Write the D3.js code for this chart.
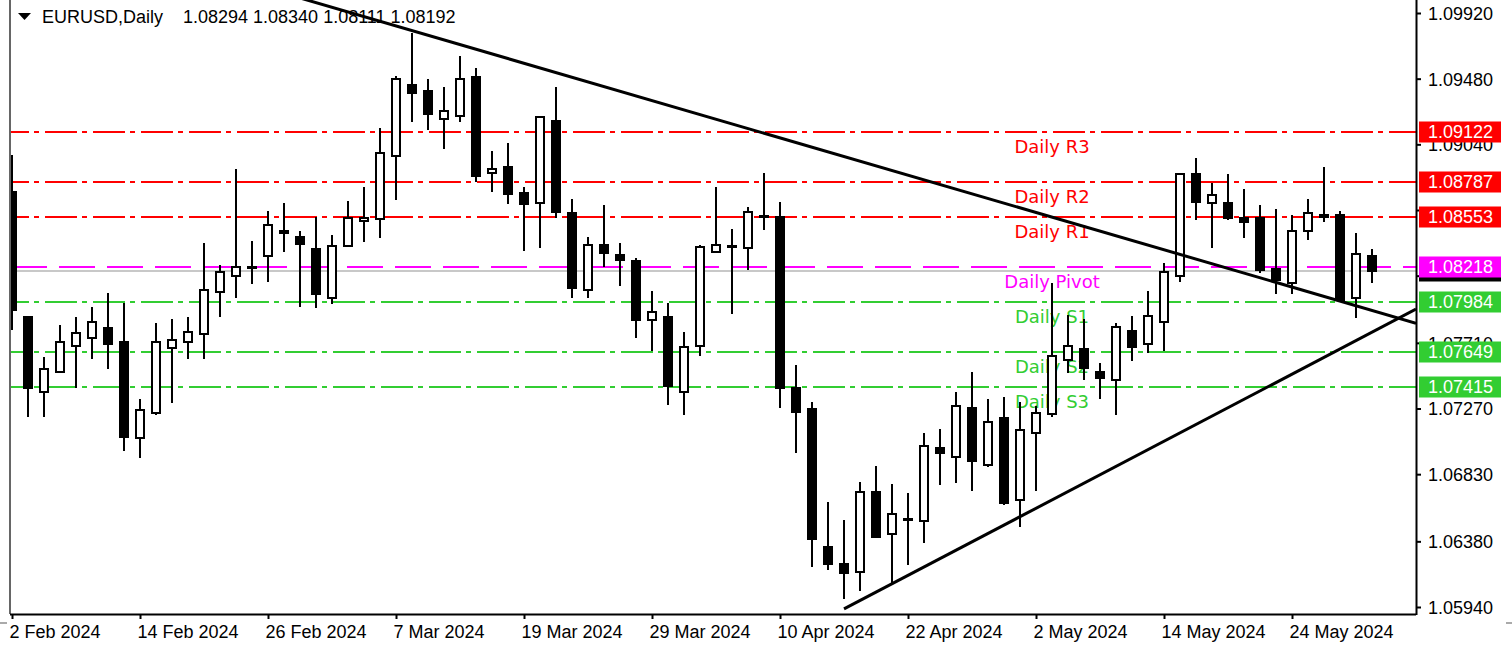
<!DOCTYPE html>
<html>
<head>
<meta charset="utf-8">
<script src="https://cdn.jsdelivr.net/npm/d3@7/dist/d3.min.js"></script>
<style>
    body { margin: 0; background: #fff; }
    text { font-family: "Liberation Sans", Arial, sans-serif; font-size: 18px; fill: #000; }
    .lvl { font-family: "DejaVu Sans", sans-serif; font-size: 18px; }
</style>
</head>
<body>
<svg class="chart"></svg>
<script>
const symbol = "EURUSD,Daily";

// daily candles, 2 Feb 2024 .. 31 May 2024
const open = [
    1.08721, 1.07883, 1.07381, 1.07515, 1.07689, 1.07743, 1.07810, 1.07716, 1.07073, 1.07240,
    1.07676, 1.07716, 1.07769, 1.08051, 1.08158, 1.08218, 1.08292, 1.08459, 1.08419, 1.08339,
    1.08011, 1.08359, 1.08526, 1.08540, 1.08962, 1.09438, 1.09397, 1.09210, 1.09230, 1.09491,
    1.08848, 1.08888, 1.08714, 1.08647, 1.09196, 1.08580, 1.08064, 1.08366, 1.08299, 1.08258,
    1.07863, 1.07883, 1.07381, 1.07689, 1.08319, 1.08359, 1.08346, 1.08560, 1.08553, 1.07408,
    1.07267, 1.06342, 1.06228, 1.06175, 1.06711, 1.06429, 1.06523, 1.06516, 1.07006, 1.06945,
    1.07274, 1.06892, 1.07207, 1.06657, 1.07106, 1.07233, 1.07595, 1.07669, 1.07515, 1.07461,
    1.07789, 1.07702, 1.07850, 1.08158, 1.08841, 1.08647, 1.08647, 1.08547, 1.08547, 1.08205,
    1.08111, 1.08459, 1.08567, 1.08567, 1.08011, 1.08294
];
const high = [
    1.08969, 1.07890, 1.07615, 1.07830, 1.07883, 1.07950, 1.08044, 1.07977, 1.07334, 1.07843,
    1.07870, 1.07883, 1.08379, 1.08232, 1.08875, 1.08392, 1.08593, 1.08647, 1.08459, 1.08553,
    1.08433, 1.08660, 1.08754, 1.09150, 1.09498, 1.09786, 1.09478, 1.09424, 1.09632, 1.09552,
    1.08995, 1.09049, 1.08754, 1.09230, 1.09424, 1.08674, 1.08419, 1.08634, 1.08379, 1.08279,
    1.08057, 1.07977, 1.07783, 1.08366, 1.08754, 1.08473, 1.08620, 1.08848, 1.08654, 1.07562,
    1.07314, 1.06644, 1.06523, 1.06778, 1.06885, 1.06764, 1.06704, 1.07106, 1.07133, 1.07381,
    1.07515, 1.07334, 1.07347, 1.07314, 1.07287, 1.08111, 1.07897, 1.07870, 1.07575, 1.07843,
    1.07890, 1.08057, 1.08245, 1.08848, 1.08949, 1.08781, 1.08841, 1.08741, 1.08634, 1.08607,
    1.08567, 1.08674, 1.08888, 1.08593, 1.08446, 1.08340
];
const low = [
    1.07796, 1.07213, 1.07213, 1.07505, 1.07408, 1.07602, 1.07535, 1.06985, 1.06939, 1.07227,
    1.07307, 1.07602, 1.07602, 1.07883, 1.08011, 1.08104, 1.08118, 1.08319, 1.07950, 1.07944,
    1.07970, 1.08350, 1.08386, 1.08413, 1.08667, 1.09190, 1.09136, 1.09009, 1.09190, 1.08788,
    1.08721, 1.08640, 1.08325, 1.08346, 1.08547, 1.08011, 1.08011, 1.08218, 1.08091, 1.07743,
    1.07655, 1.07294, 1.07227, 1.07622, 1.08312, 1.07903, 1.08198, 1.08466, 1.07274, 1.06972,
    1.06208, 1.06188, 1.05994, 1.06047, 1.06402, 1.06101, 1.06222, 1.06369, 1.06758, 1.06771,
    1.06717, 1.06878, 1.06624, 1.06476, 1.06717, 1.07213, 1.07508, 1.07461, 1.07334, 1.07227,
    1.07588, 1.07642, 1.07655, 1.08118, 1.08533, 1.08346, 1.08533, 1.08413, 1.08178, 1.08037,
    1.08037, 1.08399, 1.08520, 1.07984, 1.07876, 1.08111
];
const close = [
    1.07930, 1.07408, 1.07535, 1.07716, 1.07776, 1.07850, 1.07702, 1.07079, 1.07260, 1.07716,
    1.07729, 1.07783, 1.08064, 1.08185, 1.08218, 1.08212, 1.08500, 1.08446, 1.08372, 1.08037,
    1.08359, 1.08547, 1.08547, 1.08982, 1.09478, 1.09384, 1.09243, 1.09263, 1.09478, 1.08828,
    1.08875, 1.08707, 1.08640, 1.09223, 1.08587, 1.08078, 1.08366, 1.08312, 1.08265, 1.07863,
    1.07917, 1.07421, 1.07682, 1.08352, 1.08366, 1.08352, 1.08587, 1.08553, 1.07408, 1.07247,
    1.06396, 1.06228, 1.06168, 1.06711, 1.06409, 1.06563, 1.06530, 1.07019, 1.06972, 1.07287,
    1.06918, 1.07180, 1.06637, 1.07126, 1.07240, 1.07622, 1.07689, 1.07542, 1.07475, 1.07816,
    1.07682, 1.07890, 1.08185, 1.08841, 1.08654, 1.08701, 1.08547, 1.08520, 1.08198, 1.08131,
    1.08459, 1.08580, 1.08553, 1.07997, 1.08305, 1.08192
];

// trading days (Mon-Fri)
const dates = d3.utcDay.range(new Date(Date.UTC(2024, 1, 2)), new Date(Date.UTC(2024, 5, 1)))
    .filter(d => d.getUTCDay() % 6 !== 0);

const levelNames = ["Daily R3", "Daily R2", "Daily R1", "Daily Pivot", "Daily S1", "Daily S2", "Daily S3"];
const levelValues = [1.09122, 1.08787, 1.08553, 1.08218, 1.07984, 1.07649, 1.07415];

const priceTicks = [1.09920, 1.09480, 1.09040, 1.08600, 1.08160, 1.07710, 1.07270, 1.06830, 1.06380, 1.05940];

// trend lines: [bar index, price] anchors
const trendDown = [[25, 1.09802], [83, 1.07990]];
const trendUp = [[52, 1.05927], [85, 1.07781]];

const width = 1512;
const height = 651;
const plot = {left: 10, right: 1416, top: 0, bottom: 614};

const levelColor = d => d.name.includes("R") ? "#ff0000" : d.name.includes("Pivot") ? "#ff00ff" : "#32cd32";

const x = d3.scalePoint()
    .domain(d3.range(dates.length))
    .range([12, 12 + 16 * (dates.length - 1)]);

const y = d3.scaleLinear()
    .domain([1.05940, 1.09920])
    .range([607, 13]);

const svg = d3.select(".chart")
    .attr("width", width)
    .attr("height", height);

svg.append("defs").append("clipPath")
    .attr("id", "plotclip")
    .append("rect")
    .attr("x", plot.left + 1)
    .attr("y", plot.top)
    .attr("width", plot.right - plot.left - 1)
    .attr("height", plot.bottom - plot.top);

const g = svg.append("g").attr("clip-path", "url(#plotclip)");

// pivot levels
const levels = levelNames.map((name, i) => ({name, value: levelValues[i]}));

g.selectAll(".level")
    .data(levels)
    .enter().append("line")
    .attr("class", "level")
    .attr("x1", plot.left)
    .attr("x2", plot.right)
    .attr("y1", d => Math.round(y(d.value)))
    .attr("y2", d => Math.round(y(d.value)))
    .attr("stroke", levelColor)
    .attr("stroke-width", 2)
    .attr("stroke-dasharray", d => d.name.includes("Pivot") ? "36,12" : "32,5,5,6")
    .attr("stroke-dashoffset", d => d.name.includes("Pivot") ? 47 : 13);

g.selectAll(".lvl")
    .data(levels)
    .enter().append("text")
    .attr("class", "lvl")
    .attr("x", x(65))
    .attr("y", d => Math.round(y(d.value)) + 21)
    .attr("text-anchor", "middle")
    .style("fill", levelColor)
    .text(d => d.name);

// bid line
const last = close[close.length - 1];
g.append("line")
    .attr("x1", plot.left)
    .attr("x2", plot.right)
    .attr("y1", Math.round(y(last)))
    .attr("y2", Math.round(y(last)))
    .attr("stroke", "#c8c8c8")
    .attr("stroke-width", 2);

// candles
const candles = g.selectAll(".candle")
    .data(d3.range(dates.length))
    .enter().append("g")
    .attr("class", "candle");

candles.append("line")
    .attr("x1", i => x(i))
    .attr("x2", i => x(i))
    .attr("y1", i => Math.round(y(high[i])))
    .attr("y2", i => Math.round(y(low[i])))
    .attr("stroke", "#000")
    .attr("stroke-width", 2);

candles.append("rect")
    .attr("x", i => x(i) - 4)
    .attr("width", 8)
    .attr("y", i => Math.round(y(Math.max(open[i], close[i]))))
    .attr("height", i => Math.abs(Math.round(y(open[i])) - Math.round(y(close[i]))))
    .attr("fill", i => close[i] >= open[i] ? "#fff" : "#000")
    .attr("stroke", "#000")
    .attr("stroke-width", 2);

// trend lines, extended to the right edge
function trendPath(a, b, fromX) {
    const x1 = x(a[0]), y1 = y(a[1]);
    const slope = (y(b[1]) - y1) / (x(b[0]) - x1);
    return [[fromX, y1 + slope * (fromX - x1)], [plot.right, y1 + slope * (plot.right - x1)]];
}

g.selectAll(".trend")
    .data([trendPath(trendDown[0], trendDown[1], 0), trendPath(trendUp[0], trendUp[1], x(trendUp[0][0]))])
    .enter().append("path")
    .attr("class", "trend")
    .attr("d", d3.line())
    .attr("fill", "none")
    .attr("stroke", "#000")
    .attr("stroke-width", 3);

// frame
svg.append("line")
    .attr("x1", plot.left).attr("x2", plot.left)
    .attr("y1", 0).attr("y2", plot.bottom)
    .attr("stroke", "#666").attr("stroke-width", 2);

// bottom axis
const xAxis = d3.axisBottom(x)
    .tickValues(d3.range(0, dates.length, 8))
    .tickSize(5)
    .tickFormat(i => d3.utcFormat("%-d %b %Y")(dates[i]));

const xg = svg.append("g")
    .attr("transform", `translate(0, ${plot.bottom})`)
    .call(xAxis);
xg.select(".domain").attr("d", `M${plot.left},0.5H${plot.right}`).attr("stroke", "#000").attr("stroke-width", 2);
xg.selectAll(".tick line").attr("stroke", "#000").attr("stroke-width", 2);
xg.selectAll(".tick text")
    .attr("text-anchor", "start")
    .attr("dx", -3)
    .attr("y", 24)
    .attr("dy", 0)
    .attr("font-size", null)
    .attr("font-family", null);

// price labels on the scale
const tags = [{value: last, fill: "#000"}]
    .concat(levels.map(d => ({value: d.value, fill: levelColor(d)})));

// scale labels that sit fully under a price tag are not drawn
const covered = v => tags.some(t => Math.abs(y(t.value) - y(v)) < 8);

// right axis
const yAxis = d3.axisRight(y)
    .tickValues(priceTicks)
    .tickSize(5)
    .tickFormat(v => covered(v) ? "" : d3.format(".5f")(v));

const yg = svg.append("g")
    .attr("transform", `translate(${plot.right}, 0)`)
    .call(yAxis);
yg.select(".domain").attr("d", `M0.5,0V${plot.bottom + 1}`).attr("stroke", "#000").attr("stroke-width", 2);
yg.selectAll(".tick line").attr("stroke", "#000").attr("stroke-width", 2);
yg.selectAll(".tick text")
    .attr("x", 12)
    .attr("dy", "0.36em")
    .attr("font-size", null)
    .attr("font-family", null);

const tag = svg.selectAll(".tag")
    .data(tags)
    .enter().append("g")
    .attr("class", "tag")
    .attr("transform", d => `translate(1419, ${Math.round(y(d.value))})`);

tag.append("rect")
    .attr("x", 0)
    .attr("y", -10.5)
    .attr("width", 82)
    .attr("height", 21)
    .attr("fill", d => d.fill);

tag.append("text")
    .attr("x", 9)
    .attr("dy", "0.36em")
    .style("fill", "#fff")
    .text(d => d3.format(".5f")(d.value));

// header
svg.append("path")
    .attr("d", "M18,13L31,13L24.5,20Z")
    .attr("fill", "#000");

svg.append("text")
    .attr("x", 42)
    .attr("y", 23)
    .text(symbol);

svg.append("text")
    .attr("x", 183)
    .attr("y", 23)
    .text([open, high, low, close].map(s => s[s.length - 1].toFixed(5)).join(" "));

// small scroll marks
svg.append("line").attr("x1", 0).attr("x2", 7).attr("y1", 623).attr("y2", 623)
    .attr("stroke", "#aaa").attr("stroke-width", 2);
svg.append("line").attr("x1", 1506).attr("x2", 1512).attr("y1", 623).attr("y2", 623)
    .attr("stroke", "#aaa").attr("stroke-width", 2);
</script>
</body>
</html>
